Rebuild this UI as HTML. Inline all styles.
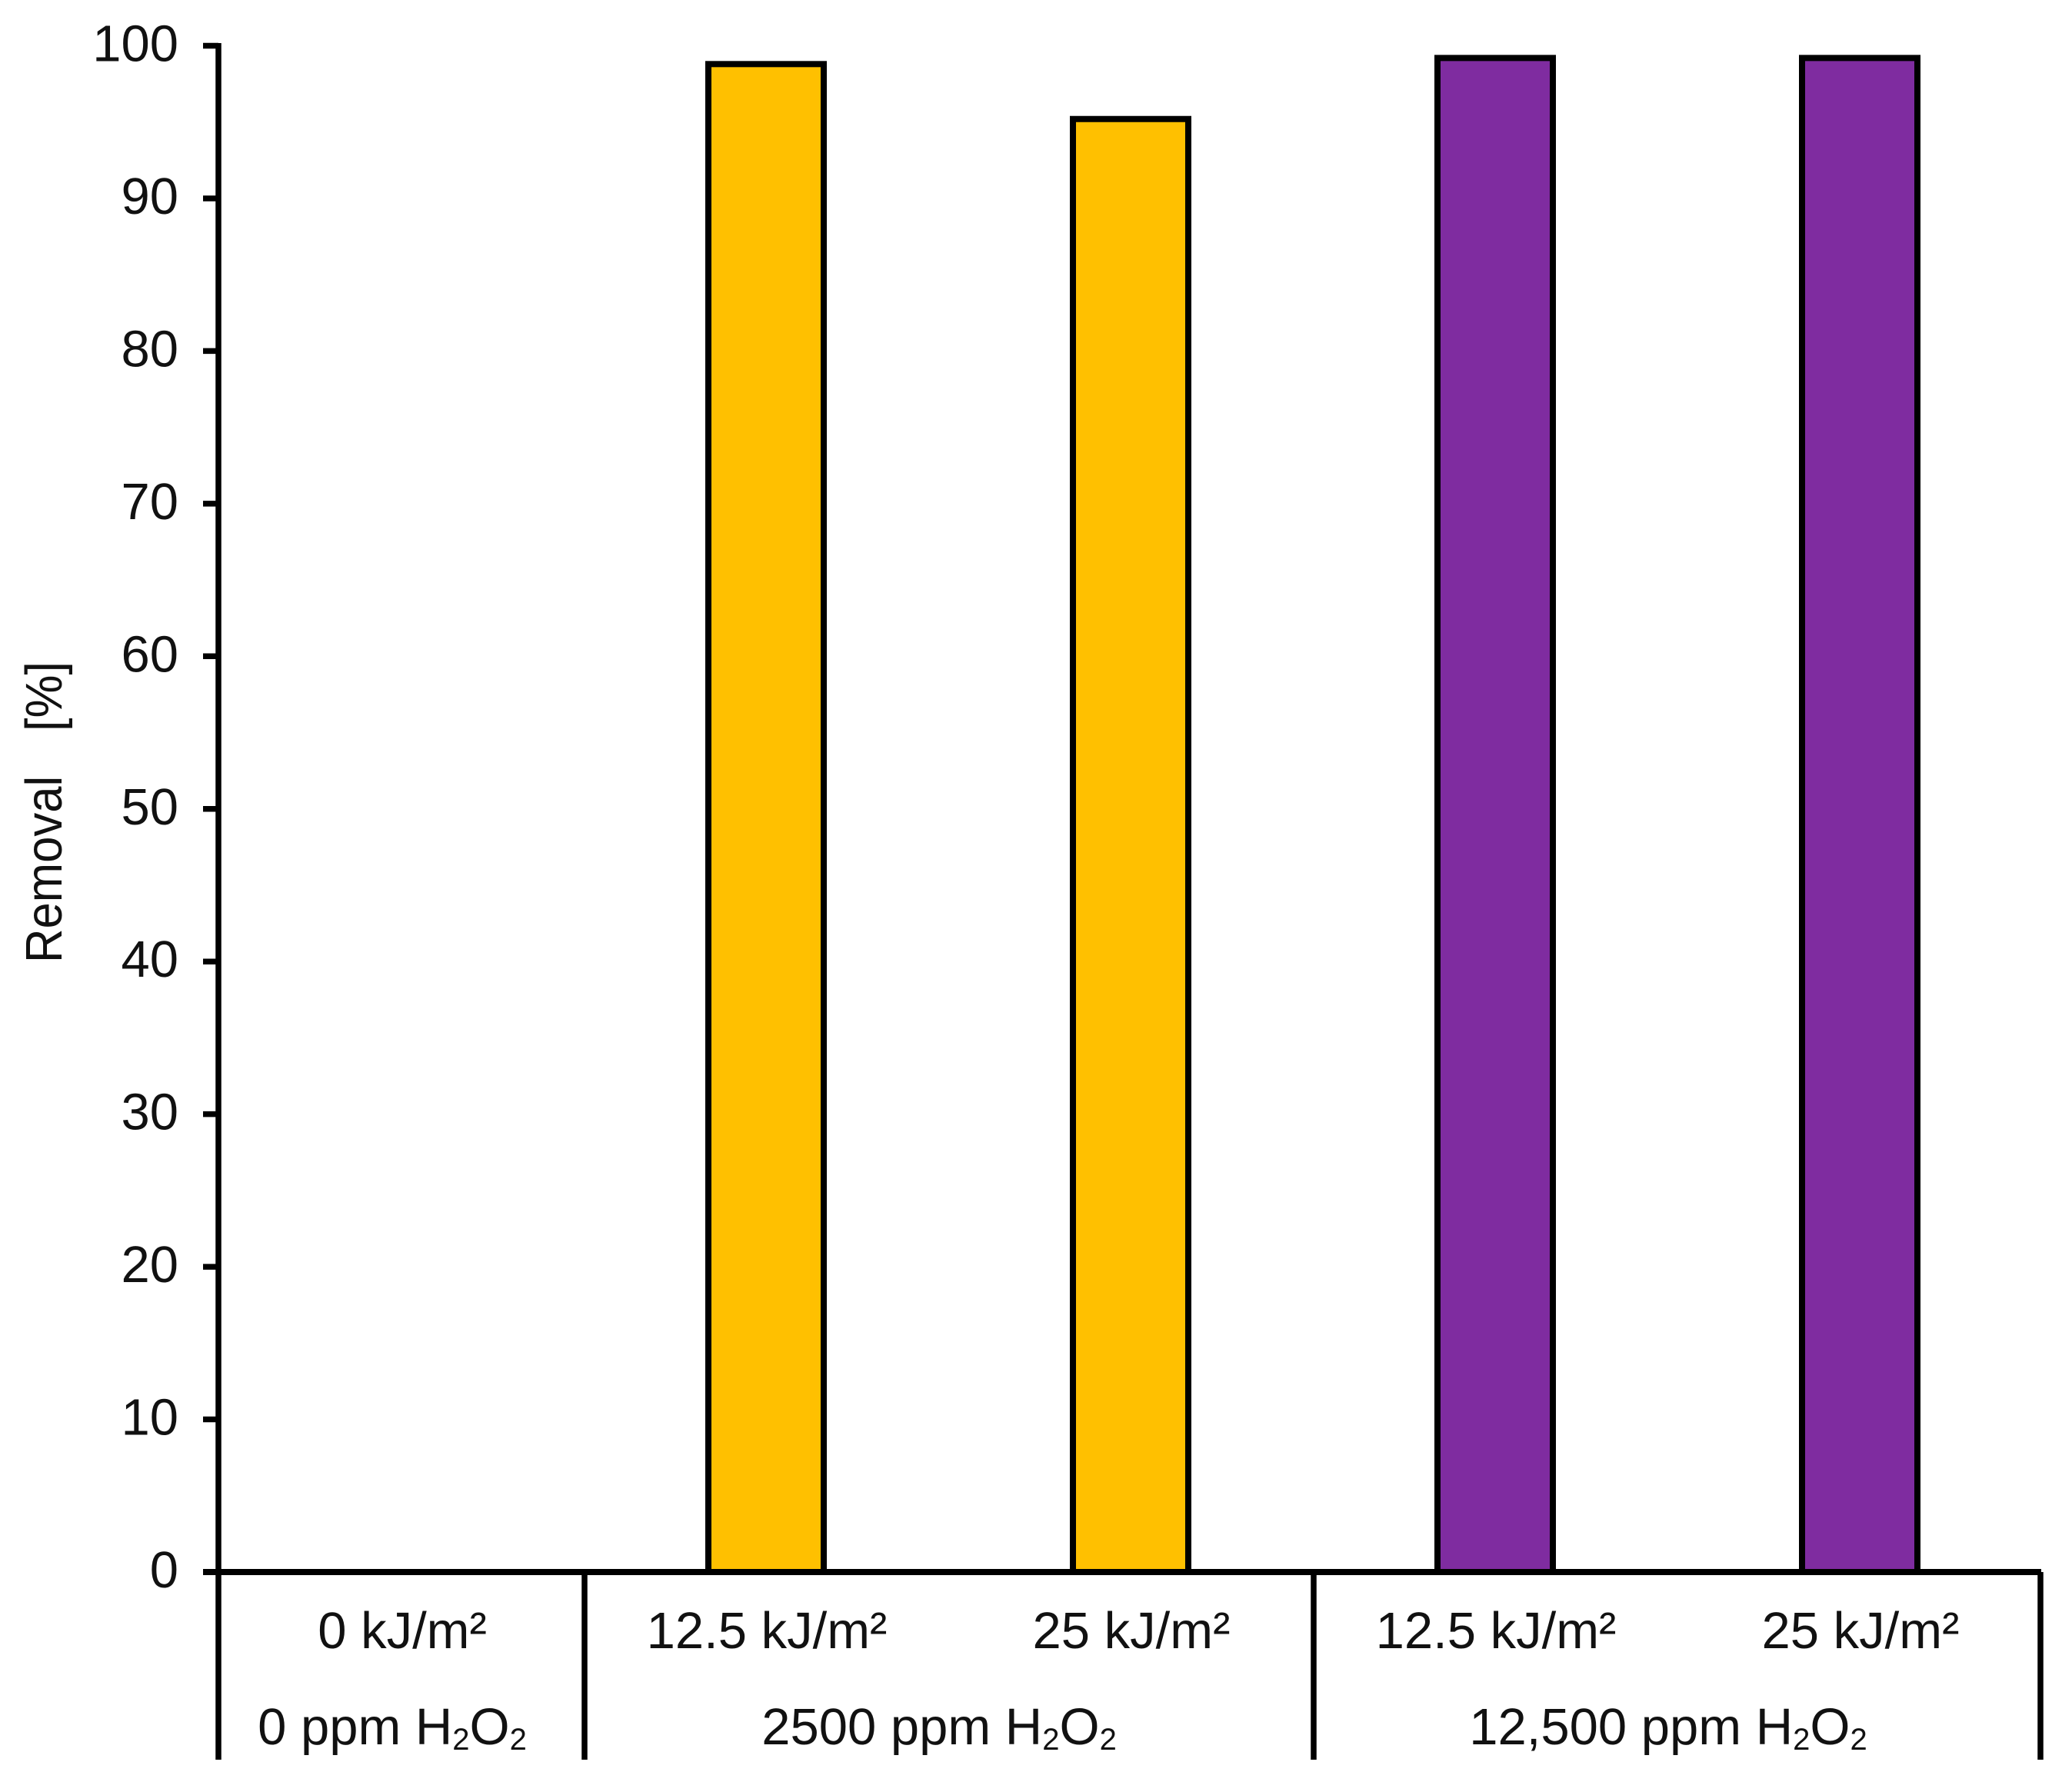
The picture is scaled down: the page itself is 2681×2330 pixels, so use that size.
<!DOCTYPE html>
<html>
<head>
<meta charset="utf-8">
<title>Removal chart</title>
<style>
html,body{margin:0;padding:0;background:#fff;width:2681px;height:2330px;overflow:hidden}
svg{display:block}
text{font-family:"Liberation Sans",Arial,sans-serif;fill:#111}
</style>
</head>
<body>
<svg id="chart" xmlns="http://www.w3.org/2000/svg" width="2681" height="2330" viewBox="0 0 2681 2330"></svg>
<script>
const categories = ["0 kJ/m²", "12.5 kJ/m²", "25 kJ/m²", "12.5 kJ/m²", "25 kJ/m²"];
const removalValues = [0, 98.8, 95.2, 99.2, 99.2];
const barColors = ["#FFC000", "#FFC000", "#FFC000", "#7F2CA0", "#7F2CA0"];
const yTicks = [0, 10, 20, 30, 40, 50, 60, 70, 80, 90, 100];
const groupLabels = ["0 ppm", "2500 ppm", "12,500 ppm"];
const groupSizes = [1, 2, 2];

const svg = document.getElementById('chart');
const NS = 'http://www.w3.org/2000/svg';
const plotLeft = 284, plotRight = 2654, plotTop = 59.5, plotBottom = 2044, axisBottom = 2288;
const yMax = 100, bandWidth = (plotRight - plotLeft) / categories.length, barWidth = 150;
function yScale(v) { return plotBottom - (v / yMax) * (plotBottom - plotTop); }
function xBand(i) { return plotLeft + i * bandWidth; }
function make(tag, attrs) {
  const el = document.createElementNS(NS, tag);
  for (const k in attrs) el.setAttribute(k, attrs[k]);
  svg.appendChild(el);
  return el;
}

removalValues.forEach((v, i) => {
  const cx = xBand(i) + bandWidth / 2;
  const bar = make('rect', {x: cx - barWidth / 2 + 1, y: yScale(v), width: barWidth, height: plotBottom - yScale(v), fill: barColors[i], stroke: '#000', 'stroke-width': 8});
  
  
});

const yAxis = make('line', {x1: plotLeft, x2: plotLeft, y1: plotTop - 3.5, y2: axisBottom, stroke: '#000', 'stroke-width': 7.5});



yTicks.forEach(t => {
  const y = yScale(t);
  const tick = make('line', {x1: 264, x2: plotLeft, y1: y, y2: y, stroke: '#000', 'stroke-width': 7.5});
  
  
  const label = make('text', {x: 232, y: y + 20, 'text-anchor': 'end', 'font-size': 67});
  label.textContent = t;
  
  
});

const xAxis = make('line', {x1: 264, x2: plotRight, y1: plotBottom, y2: plotBottom, stroke: '#000', 'stroke-width': 8});



categories.forEach((c, i) => {
  const label = make('text', {x: xBand(i) + bandWidth / 2 + 2, y: 2143, 'text-anchor': 'middle', 'font-size': 67});
  label.textContent = c;
  
  
});

let start = 0;
groupLabels.forEach((g, i) => {
  const end = start + groupSizes[i];
  const x1 = xBand(start), x2 = xBand(end);
  const label = make('text', {x: (x1 + x2) / 2 - 11, y: 2268, 'text-anchor': 'middle', 'font-size': 67});
  
  
  const parts = [[g + ' H', 0, 67], ['2', 7, 40], ['O', -7, 67], ['2', 7, 40]];
  parts.forEach(p => {
    const ts = document.createElementNS(NS, 'tspan');
    ts.setAttribute('dy', p[1]);
    ts.setAttribute('font-size', p[2]);
    ts.textContent = p[0];
    label.appendChild(ts);
  });
  const sep = make('line', {x1: x2 + (i < 2 ? 2 : -1), x2: x2 + (i < 2 ? 2 : -1), y1: plotBottom, y2: axisBottom, stroke: '#000', 'stroke-width': 7.5});
  
  
  start = end;
});

const yTitle = make('text', {transform: 'translate(80,1252) rotate(-90) scale(0.92,1)', 'font-size': 67});
yTitle.textContent = 'Removal';



const yUnit = make('text', {transform: 'translate(80,951) rotate(-90) scale(0.94,1)', 'font-size': 67});
yUnit.textContent = '[%]';


</script>
</body>
</html>
